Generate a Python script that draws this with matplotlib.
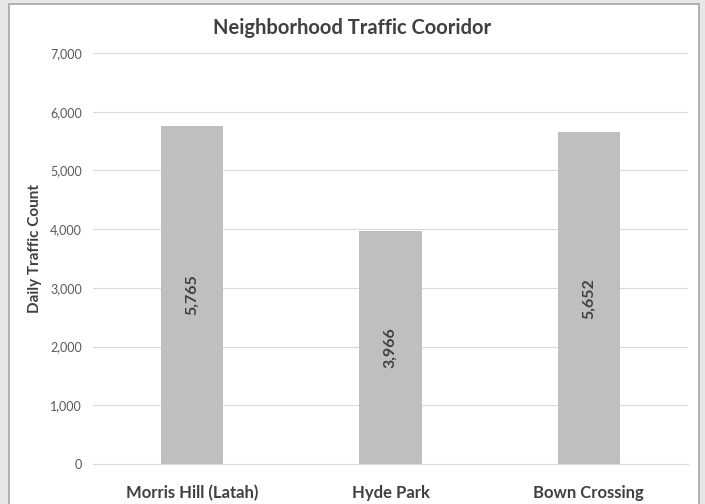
import matplotlib.pyplot as plt
from matplotlib.patches import Rectangle
from matplotlib.ticker import FuncFormatter

categories = ["Morris Hill (Latah)", "Hyde Park", "Bown Crossing"]
counts = [5765, 3966, 5652]

plt.rcParams["font.family"] = ["Lato", "DejaVu Sans"]

fig = plt.figure(figsize=(7.05, 5.04), dpi=100)
fig.patch.set_facecolor("#e7e7e7")
# white chart panel with thin border
fig.patches.append(Rectangle((9 / 705, -0.01), 690 / 705, 1 - 4 / 504 + 0.01,
                             transform=fig.transFigure, facecolor="white",
                             edgecolor="#a6a6a6", linewidth=1.2, zorder=-10))

ax = fig.add_axes([93 / 705, 1 - 464 / 504, (688 - 93) / 705, (464 - 53) / 504])
ax.set_zorder(1)
ax.set_facecolor("none")

x = range(len(categories))
bars = ax.bar(x, counts, width=0.313, color="#bfbfbf", zorder=2)
for b, v in zip(bars, counts):
    ax.text(b.get_x() + b.get_width() / 2, v / 2, f"{v:,}", rotation=90,
            ha="center", va="center", fontsize=11.5, fontweight="bold",
            color="#404040", zorder=3)

ax.set_xlim(-0.5, len(categories) - 0.5)
ax.set_ylim(0, 7000)
ax.set_yticks(range(0, 7001, 1000))
ax.yaxis.set_major_formatter(FuncFormatter(lambda v, p: f"{int(v):,}"))
ax.set_xticks(list(x))
ax.set_xticklabels(categories, fontsize=12, fontweight="bold", color="#404040")
ax.tick_params(axis="y", labelsize=9, labelcolor="#595959", length=0, pad=8)
ax.tick_params(axis="x", length=0, pad=15)
ax.grid(axis="y", color="#d9d9d9", linewidth=0.8, zorder=0)
for s in ["top", "right", "left"]:
    ax.spines[s].set_visible(False)
ax.spines["bottom"].set_color("#d9d9d9")

ax.set_ylabel("Daily Traffic Count", fontsize=11, fontweight="bold",
              color="#404040")
ax.yaxis.set_label_coords(-0.086, 0.525)
fig.text(0.5, 1 - 28 / 504, "Neighborhood Traffic Cooridor", ha="center",
         va="center", fontsize=14.5, fontweight="bold", color="#404040")

fig.savefig("out.png", dpi=100, facecolor=fig.get_facecolor())
